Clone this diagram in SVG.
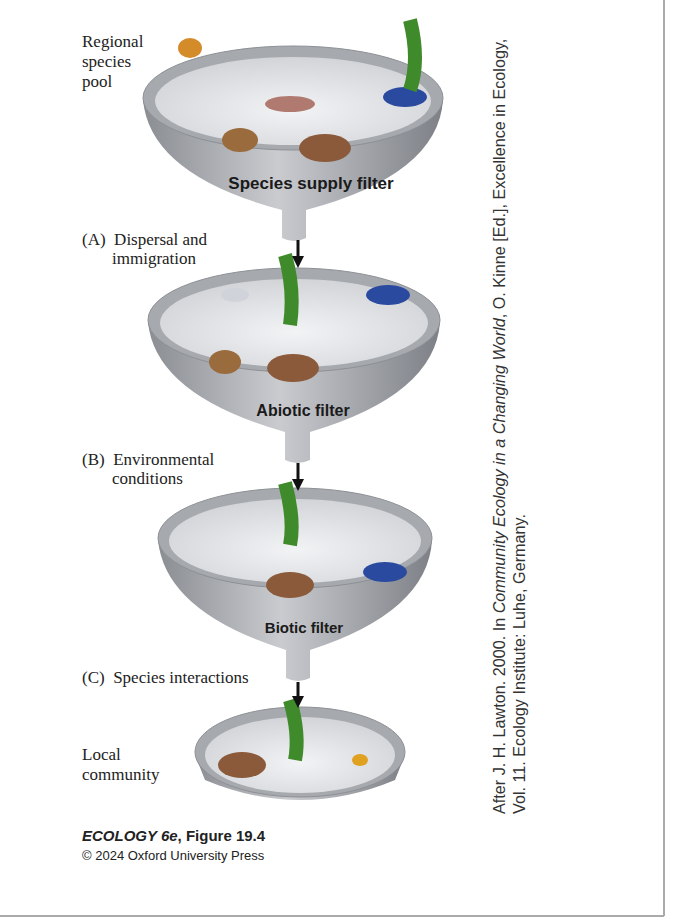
<svg xmlns="http://www.w3.org/2000/svg" width="674" height="924" viewBox="0 0 674 924">
<defs>
<linearGradient id="cone" x1="0" x2="1" y1="0" y2="0">
<stop offset="0" stop-color="#8a8d92"/><stop offset="0.45" stop-color="#c9cbcf"/><stop offset="1" stop-color="#7d8086"/>
</linearGradient>
<radialGradient id="inside" cx="0.5" cy="0.6" r="0.6">
<stop offset="0" stop-color="#f2f3f5"/><stop offset="1" stop-color="#d2d4d8"/>
</radialGradient>
<marker id="ah" viewBox="0 0 10 10" refX="5" refY="5" markerWidth="4" markerHeight="4" orient="auto"><path d="M0,0L10,5L0,10z" fill="#111"/></marker>
</defs>
<style>
.lab{font-family:"Liberation Serif",serif;font-size:17px;fill:#222}
.flt{font-family:"Liberation Sans",Arial,sans-serif;font-size:16px;font-weight:bold;fill:#1a1a1a}
.rim{fill:#a6a9ae;stroke:#8d9095;stroke-width:1}
.in{fill:url(#inside)}
.cone{fill:url(#cone)}
.cred{font-family:"Liberation Sans",Arial,sans-serif;font-size:16.2px;fill:#333}
</style>
<rect width="674" height="924" fill="#fff"/>
<line x1="664" y1="0" x2="664" y2="916" stroke="#aaa" stroke-width="2"/>
<line x1="0" y1="916" x2="664" y2="916" stroke="#aaa" stroke-width="2"/>

<g id="funnel1">
<path class="cone" d="M143,100 Q150,175 282,210 L282,238 Q294,244 306,238 L306,210 Q438,175 443,100 Z"/>
<ellipse class="rim" cx="293" cy="98" rx="150" ry="52"/>
<ellipse class="in" cx="293" cy="101" rx="138" ry="44"/>
<text class="flt" x="311" y="189" text-anchor="middle" style="font-size:17px">Species supply filter</text>
</g>
<g id="funnel2">
<path class="cone" d="M148,322 Q155,395 285,432 L285,460 Q297,466 310,460 L310,432 Q435,395 440,322 Z"/>
<ellipse class="rim" cx="294" cy="320" rx="146" ry="52"/>
<ellipse class="in" cx="294" cy="323" rx="134" ry="44"/>
<text class="flt" x="303" y="416" text-anchor="middle">Abiotic filter</text>
</g>
<g id="funnel3">
<path class="cone" d="M158,540 Q165,612 286,650 L286,678 Q298,684 310,678 L310,650 Q428,612 432,540 Z"/>
<ellipse class="rim" cx="295" cy="538" rx="137" ry="50"/>
<ellipse class="in" cx="295" cy="541" rx="126" ry="42"/>
<text class="flt" x="304" y="633" text-anchor="middle" style="font-size:15px">Biotic filter</text>
</g>
<g id="dish4">
<path class="cone" d="M195,755 L205,780 Q300,820 395,780 L405,755 Z"/>
<ellipse class="rim" cx="300" cy="752" rx="105" ry="45"/>
<ellipse class="in" cx="300" cy="755" rx="95" ry="38"/>
</g>

<g id="organisms">
<ellipse cx="325" cy="148" rx="26" ry="14" fill="#8a5a3a"/>
<ellipse cx="240" cy="140" rx="18" ry="12" fill="#9a6b3d"/>
<ellipse cx="405" cy="97" rx="22" ry="10" fill="#2a4aa0"/>
<ellipse cx="290" cy="104" rx="25" ry="8" fill="#b07a70"/>
<path d="M410,20 Q420,60 410,90" stroke="#3f8a2a" stroke-width="14" fill="none"/>
<ellipse cx="190" cy="48" rx="12" ry="10" fill="#d48b2a"/>
<ellipse cx="293" cy="368" rx="26" ry="14" fill="#8a5a3a"/>
<ellipse cx="225" cy="362" rx="16" ry="12" fill="#9a6b3d"/>
<ellipse cx="388" cy="295" rx="22" ry="10" fill="#2a4aa0"/>
<path d="M285,255 Q295,290 290,325" stroke="#3f8a2a" stroke-width="14" fill="none"/>
<ellipse cx="235" cy="295" rx="14" ry="7" fill="#d0d4da"/>
<ellipse cx="290" cy="585" rx="24" ry="13" fill="#8a5a3a"/>
<ellipse cx="385" cy="572" rx="22" ry="10" fill="#2a4aa0"/>
<path d="M285,483 Q295,520 290,545" stroke="#3f8a2a" stroke-width="14" fill="none"/>
<ellipse cx="242" cy="765" rx="24" ry="13" fill="#8a5a3a"/>
<path d="M290,700 Q300,735 295,760" stroke="#3f8a2a" stroke-width="14" fill="none"/>
<ellipse cx="360" cy="760" rx="8" ry="6" fill="#e0a020"/>
</g>

<g id="connectors" stroke="#111" stroke-width="3" marker-end="url(#ah)">
<line x1="298" y1="240" x2="298" y2="262"/>
<line x1="298" y1="463" x2="298" y2="485"/>
<line x1="298" y1="682" x2="298" y2="702"/>
</g>

<g id="labels">
<text class="lab" x="82" y="47">Regional</text>
<text class="lab" x="82" y="67">species</text>
<text class="lab" x="82" y="87">pool</text>
<text class="lab" x="82" y="245">(A)&#160; Dispersal and</text>
<text class="lab" x="112" y="264">immigration</text>
<text class="lab" x="82" y="465">(B)&#160; Environmental</text>
<text class="lab" x="112" y="484">conditions</text>
<text class="lab" x="82" y="683">(C)&#160; Species interactions</text>
<text class="lab" x="82" y="760">Local</text>
<text class="lab" x="82" y="780">community</text>
<text x="82" y="841" font-family="Liberation Sans Narrow,Liberation Sans,sans-serif" font-size="15" font-weight="bold" fill="#222"><tspan font-style="italic">ECOLOGY 6e</tspan>, Figure 19.4</text>
<text x="82" y="860" font-family="Liberation Sans Narrow,Liberation Sans,sans-serif" font-size="13" fill="#222">© 2024 Oxford University Press</text>
<g transform="translate(505,814) rotate(-90)">
<text class="cred" x="0" y="0">After J. H. Lawton. 2000. In <tspan font-style="italic">Community Ecology in a Changing World</tspan>, O. Kinne [Ed.], Excellence in Ecology,</text>
<text class="cred" x="0" y="20">Vol. 11. Ecology Institute: Luhe, Germany.</text>
</g>
</g>
</svg>
